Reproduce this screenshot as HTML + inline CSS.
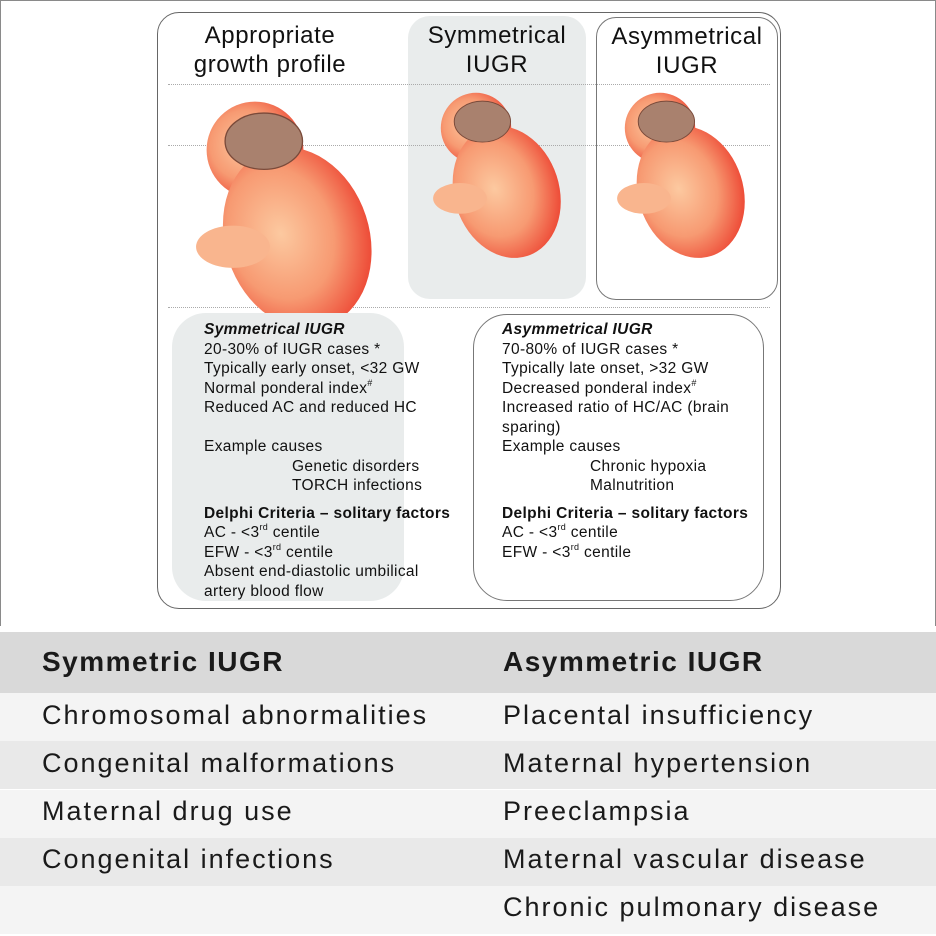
<!DOCTYPE html>
<html><head><meta charset="utf-8"><style>
*{margin:0;padding:0;box-sizing:border-box}
body{width:936px;height:936px;background:#fff;position:relative;overflow:hidden;font-family:"Liberation Sans",Arial,sans-serif;color:#111}
.a{position:absolute;white-space:nowrap}
.t{font-size:24px;text-align:center;line-height:29px;letter-spacing:0.6px}
.s{font-size:15.5px;line-height:19.5px;letter-spacing:0.35px}
.s sup{font-size:9px;line-height:0;vertical-align:7px}
.row{position:absolute;left:0;width:936px;height:48px}
.tx{position:absolute;font-size:27px;letter-spacing:2px;line-height:48px;color:#1a1a1a}
</style></head><body>
<div class="a" style="left:0;top:0;width:936px;height:626px;border:1.5px solid #8a8a8a;border-bottom:none"></div>
<div class="a" style="left:157px;top:12px;width:624px;height:597px;border:1.5px solid #666;border-radius:22px"></div>
<div class="a" style="left:408px;top:16px;width:178px;height:283px;background:#e9ecec;border-radius:22px"></div>
<div class="a" style="left:596px;top:17px;width:182px;height:283px;border:1.2px solid #777;border-radius:20px"></div>
<div class="a" style="left:168px;top:84px;width:602px;border-top:1.5px dotted #aaa"></div>
<div class="a" style="left:168px;top:145px;width:602px;border-top:1.5px dotted #aaa"></div>
<div class="a" style="left:168px;top:307px;width:602px;border-top:1.5px dotted #aaa"></div>
<svg class="a" style="left:0;top:0" width="936" height="320">
<defs>
<radialGradient id="g" cx="0.4" cy="0.45" r="0.6"><stop offset="0" stop-color="#fcc9a0"/><stop offset="0.6" stop-color="#f79a72"/><stop offset="1" stop-color="#ee4f3a"/></radialGradient>
<g id="f">
<ellipse cx="0" cy="0" rx="55" ry="55" fill="url(#g)"/>
<ellipse cx="48" cy="100" rx="82" ry="105" fill="url(#g)" transform="rotate(-18 48 100)"/>
<ellipse cx="-25" cy="110" rx="42" ry="24" fill="#f9b58e"/>
<ellipse cx="10" cy="-10" rx="44" ry="32" fill="#a9816e" stroke="#7a4a3a" stroke-width="1.5"/>
</g>
</defs>
<use href="#f" transform="translate(255,150) scale(0.88)"/>
<use href="#f" transform="translate(476,128) scale(0.64)"/>
<use href="#f" transform="translate(660,128) scale(0.64)"/>
</svg>
<div class="a t" style="left:165px;top:21px;width:210px">Appropriate<br>growth profile</div>
<div class="a t" style="left:403px;top:21px;width:188px">Symmetrical<br>IUGR</div>
<div class="a t" style="left:592px;top:22px;width:190px">Asymmetrical<br>IUGR</div>
<div class="a" style="left:172px;top:313px;width:232px;height:288px;background:#e9ecec;border-radius:34px"></div>
<div class="a" style="left:473px;top:314px;width:291px;height:287px;border:1.2px solid #777;border-radius:34px"></div>
<div class="a s" style="left:204px;top:320px">
<b><i>Symmetrical IUGR</i></b><br>20-30% of IUGR cases *<br>Typically early onset, &lt;32 GW<br>Normal ponderal index<sup>#</sup><br>Reduced AC and reduced HC<br><br>Example causes<br><span style="padding-left:88px">Genetic disorders</span><br><span style="padding-left:88px">TORCH infections</span><br><div style="height:8px"></div><b>Delphi Criteria – solitary factors</b><br>AC - &lt;3<sup>rd</sup> centile<br>EFW - &lt;3<sup>rd</sup> centile<br>Absent end-diastolic umbilical<br>artery blood flow</div>
<div class="a s" style="left:502px;top:320px">
<b><i>Asymmetrical IUGR</i></b><br>70-80% of IUGR cases *<br>Typically late onset, &gt;32 GW<br>Decreased ponderal index<sup>#</sup><br>Increased ratio of HC/AC (brain<br>sparing)<br>Example causes<br><span style="padding-left:88px">Chronic hypoxia</span><br><span style="padding-left:88px">Malnutrition</span><br><div style="height:8px"></div><b>Delphi Criteria – solitary factors</b><br>AC - &lt;3<sup>rd</sup> centile<br>EFW - &lt;3<sup>rd</sup> centile</div>
<div class="row" style="top:632px;height:61px;background:#d9d9d9"></div>
<div class="row" style="top:693px;background:#f4f4f4"></div>
<div class="row" style="top:741px;background:#e9e9e9"></div>
<div class="row" style="top:790px;background:#f4f4f4"></div>
<div class="row" style="top:838px;background:#e9e9e9"></div>
<div class="row" style="top:886px;background:#f4f4f4"></div>
<div class="tx" style="left:42px;top:638px;font-weight:bold;font-size:28px;letter-spacing:1.5px">Symmetric IUGR</div>
<div class="tx" style="left:503px;top:638px;font-weight:bold;font-size:28px;letter-spacing:1.5px">Asymmetric IUGR</div>
<div class="tx" style="left:42px;top:691px">Chromosomal abnormalities</div>
<div class="tx" style="left:503px;top:691px">Placental insufficiency</div>
<div class="tx" style="left:42px;top:739px">Congenital malformations</div>
<div class="tx" style="left:503px;top:739px">Maternal hypertension</div>
<div class="tx" style="left:42px;top:787px">Maternal drug use</div>
<div class="tx" style="left:503px;top:787px">Preeclampsia</div>
<div class="tx" style="left:42px;top:835px">Congenital infections</div>
<div class="tx" style="left:503px;top:835px">Maternal vascular disease</div>
<div class="tx" style="left:503px;top:883px">Chronic pulmonary disease</div>
</body></html>
